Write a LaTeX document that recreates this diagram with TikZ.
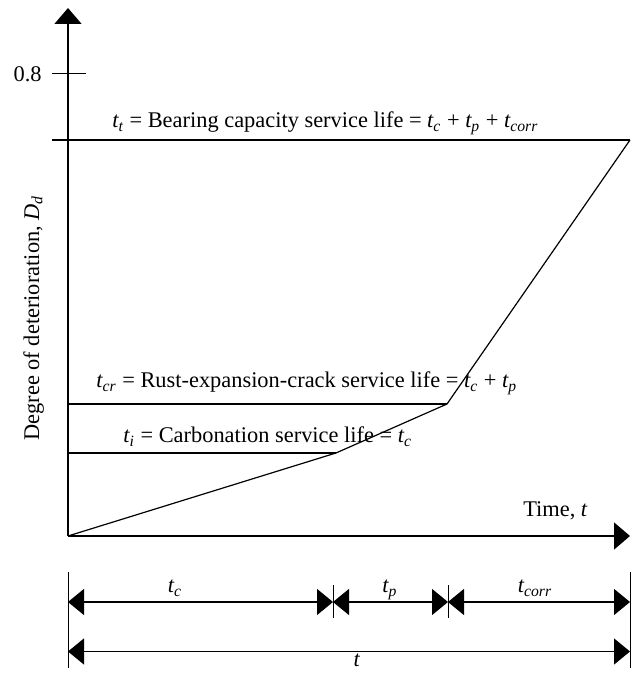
\documentclass[tikz,border=0pt]{standalone}
\usepackage{fontspec}
\usepackage{amsmath}
\setmainfont{Liberation Serif}
\usetikzlibrary{arrows.meta}

% italic t with italic subscript
\newcommand{\tv}[1]{$\textit{t}_{\textit{#1}}$}

\begin{document}
\begin{tikzpicture}[
    x=0.5pt, y=0.5pt,
    font=\fontsize{11.2}{14}\selectfont,
    axis/.style={line width=0.7pt, -{Triangle[length=8pt, width=13.5pt]}},
    curve/.style={line width=0.6pt, line join=miter},
    level/.style={line width=0.6pt},
    dim/.style={line width=0.6pt, {Triangle[length=8pt, width=13pt]}-{Triangle[length=8pt, width=13pt]}},
    tick/.style={line width=0.5pt},
    lbl/.style={inner sep=0pt, anchor=base west}
]
    \useasboundingbox (0,0) rectangle (639,673);

    % Axes
    \coordinate (O) at (68,137);
    \coordinate (ytop) at (68,665);
    \coordinate (xend) at (630,137);
    \draw [axis] (O) -- (ytop);
    \draw [axis] (O) -- (xend);
    \node (xlabel) [lbl, anchor=base east] at (588,156) {Time, \textit{t}};
    \node (ylabel) [inner sep=0pt, anchor=base, rotate=90] at (39,355) {Degree of deterioration, $\textit{D}_{\textit{d}}$};

    % Tick at 0.8
    \coordinate (tkA) at (52,599);
    \coordinate (tkB) at (86,599);
    \draw [tick] (tkA) -- (tkB);
    \node (lbl08) [inner sep=0pt, anchor=east] at (42,599) {0.8};

    % Deterioration path
    \coordinate (ti) at (336,220);
    \coordinate (tcr) at (447,269);
    \coordinate (tt) at (630,533);
    \draw [curve] (O) -- (ti) -- (tcr) -- (tt);

    % Service life levels
    \coordinate (ttL) at (52,533);
    \draw [level] (ttL) -- (tt);
    \draw [level] (O |- tcr) -- (tcr);
    \draw [level] (O |- ti) -- (ti);
    \node (lbltt) [lbl] at (112,545) {\tv{t} = Bearing capacity service life = \tv{c} + \tv{p} + \tv{corr}};
    \node (lbltcr) [lbl] at (96,285) {\tv{cr} = Rust-expansion-crack service life = \tv{c} + \tv{p}};
    \node (lblti) [lbl] at (123,230) {\tv{i} = Carbonation service life = \tv{c}};

    % Dimension lines
    \foreach \x/\a/\b in {68/5/101, 630/5/101, 333/55/88, 448/55/88}
        \draw [tick] (\x,\a) -- (\x,\b);
    \coordinate (d0) at (68,71);
    \coordinate (d1) at (333,71);
    \coordinate (d2) at (448,71);
    \coordinate (d3) at (630,71);
    \coordinate (e0) at (68,21.5);
    \coordinate (e1) at (630,21.5);
    \draw [dim] (d0) -- (d1);
    \draw [dim] (d1) -- (d2);
    \draw [dim] (d2) -- (d3);
    \draw [dim] (e0) -- (e1);
    \node (lbltc) [inner sep=0pt, anchor=base] at (175,80) {\tv{c}};
    \node (lbltp) [inner sep=0pt, anchor=base] at (390,80) {\tv{p}};
    \node (lbltcorr) [inner sep=0pt, anchor=base] at (535,80) {\tv{corr}};
    \node (lblt) [inner sep=0pt, anchor=base] at (357,6) {\textit{t}};
\end{tikzpicture}
\end{document}
